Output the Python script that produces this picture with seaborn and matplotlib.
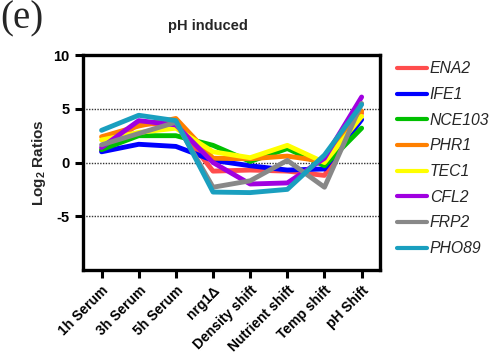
import pandas as pd
import matplotlib.pyplot as plt
import seaborn as sns

# conditions along the x axis
conditions = ["1h Serum", "3h Serum", "5h Serum", "nrg1\u0394", "Density shift",
              "Nutrient shift", "Temp shift", "pH Shift"]

# log2 ratios
ENA2 = [1.1, 3.6, 3.6, -0.8, -0.7, -0.8, -1.2, 4.6]
IFE1 = [1.0, 1.7, 1.5, 0.2, -0.3, -0.7, -0.6, 4.0]
NCE103 = [1.2, 2.5, 2.5, 1.6, 0.1, 1.3, -0.3, 3.2]
PHR1 = [2.4, 3.4, 4.1, 0.4, 0.35, 0.6, 0.1, 4.8]
TEC1 = [2.1, 2.8, 3.2, 1.0, 0.45, 1.6, 0.0, 4.3]
CFL2 = [1.4, 3.9, 3.5, 0.0, -2.0, -1.9, 0.4, 6.1]
FRP2 = [1.65, 2.7, 3.75, -2.3, -1.7, 0.2, -2.3, 5.5]
PHO89 = [3.0, 4.4, 3.9, -2.75, -2.8, -2.5, 0.7, 5.4]

genes = ["ENA2", "IFE1", "NCE103", "PHR1", "TEC1", "CFL2", "FRP2", "PHO89"]
series = [ENA2, IFE1, NCE103, PHR1, TEC1, CFL2, FRP2, PHO89]
colors = ["#ff4d4d", "#0000ff", "#00c000", "#ff8000", "#ffff00",
          "#a000e0", "#888888", "#1a9fbf"]

rows = []
for g, vals in zip(genes, series):
    for i, v in enumerate(vals):
        rows.append({"pos": i, "ratio": v, "gene": g})
df = pd.DataFrame(rows)

sns.set_style("ticks")
plt.rcParams["font.family"] = ["Liberation Sans", "DejaVu Sans"]
plt.rcParams["mathtext.fontset"] = "custom"
plt.rcParams["mathtext.bf"] = "Liberation Sans:bold"
plt.rcParams["mathtext.rm"] = "Liberation Sans"

fig = plt.figure(figsize=(4.97, 3.58), dpi=100)
ax = fig.add_axes([0.167, 0.246, 0.598, 0.60])

# dotted reference lines
for yv in [5, 0, -5]:
    ax.axhline(yv, color="#333333", lw=1.0, ls=(0, (1, 1)), zorder=0)

sns.lineplot(data=df, x="pos", y="ratio", hue="gene", hue_order=genes,
             palette=colors, lw=3.5, ax=ax, legend=True)

ax.set_xlim(-0.5, 7.5)
ax.set_ylim(-10, 10)
ax.set_yticks([10, 5, 0, -5])
ax.set_yticklabels(["10", "5", "0", "-5"], fontweight="bold", fontsize=10.5)
ax.set_xticks(range(len(conditions)))
ax.set_xticklabels(conditions, rotation=45, ha="right", rotation_mode="anchor",
                   fontweight="bold", fontsize=10)
ax.set_xlabel("")
ax.set_ylabel(r"Log$_{\mathbf{2}}$ Ratios", fontweight="bold", fontsize=11)
ax.set_title("pH induced", fontweight="bold", fontsize=10.5, x=0.42, pad=18)

for s in ax.spines.values():
    s.set_linewidth(2.4)
    s.set_color("black")
ax.tick_params(width=2.2, length=6, direction="out", colors="black")

leg = ax.legend(loc="upper left", bbox_to_anchor=(1.035, 1.0), borderaxespad=0,
                frameon=False, handlelength=1.9, handletextpad=0.2,
                labelspacing=0.68, prop={"style": "italic", "size": 11.3})
for line in leg.get_lines():
    line.set_linewidth(3)

fig.text(0.0, 1.0, "(e)", family="Liberation Serif", fontsize=28,
         va="top", ha="left")

fig.savefig("out.png", dpi=100)
